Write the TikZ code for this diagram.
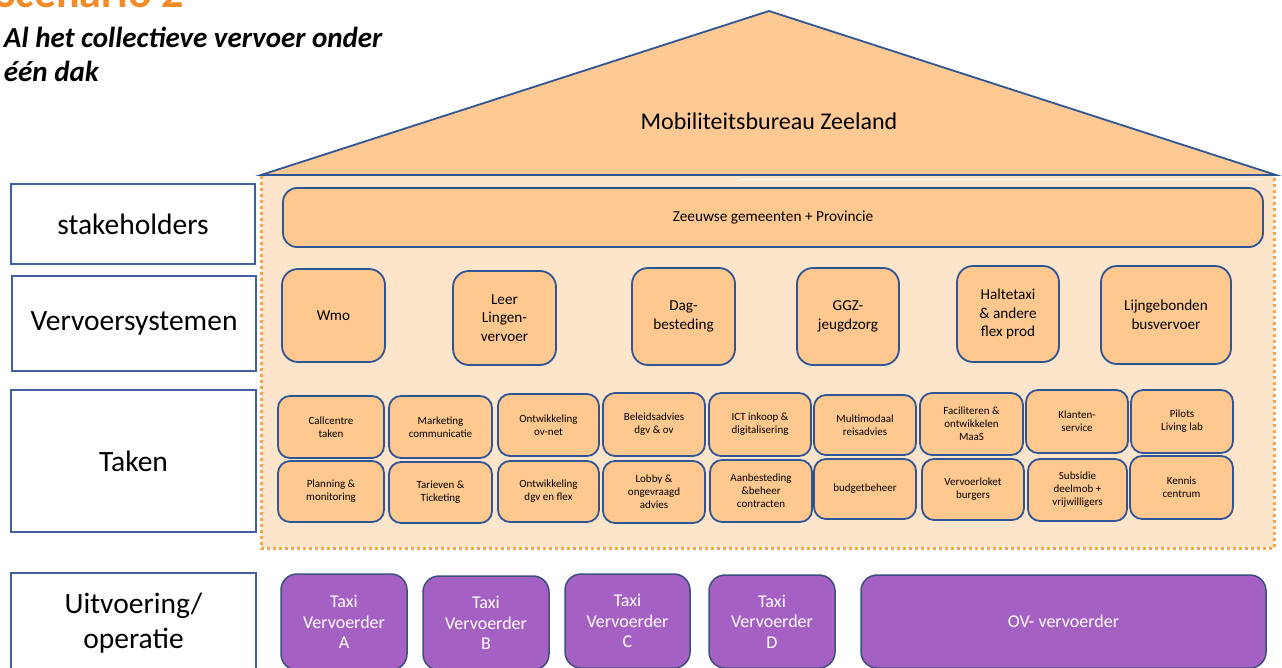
\documentclass[tikz,border=0pt]{standalone}
\usepackage{fontspec}
\setmainfont{Carlito}
\definecolor{roofor}{HTML}{FFC993}
\definecolor{boxor}{HTML}{FFC88F}
\definecolor{lightor}{HTML}{FDE5CC}
\definecolor{dotor}{HTML}{F7A54A}
\definecolor{bordblue}{HTML}{2F5597}
\definecolor{labblue}{HTML}{42609E}
\definecolor{purp}{HTML}{A560C3}
\definecolor{purpbord}{HTML}{3B4F7E}
\definecolor{titleor}{HTML}{F28C28}
\newcommand{\bx}[7]{\node[#1, minimum width={#5-#3}, minimum height={#6-#4}] (#2) at ({(#3+#5)/2},{(#4+#6)/2}) {#7};}
\tikzset{
  every node/.style={inner sep=0pt, outer sep=0pt, align=center},
  labbox/.style={draw=labblue, line width=1.8pt, fill=white, font=\fontsize{29.5}{35}\selectfont},
  stakebox/.style={draw=bordblue, line width=1.8pt, fill=boxor, rounded corners=14pt, font=\fontsize{15.3}{18}\selectfont},
  vsbox/.style={draw=bordblue, line width=1.8pt, fill=boxor, rounded corners=16pt, font=\fontsize{15.2}{18.5}\selectfont},
  tkbox/.style={draw=bordblue, line width=1.8pt, fill=boxor, rounded corners=12pt, font=\fontsize{11}{13}\selectfont},
  pbox/.style={draw=purpbord, line width=1.5pt, fill=purp, rounded corners=16pt, text=white, font=\fontsize{18}{20.5}\selectfont},
  dotline/.style={draw=dotor, line width=3pt, dash pattern=on 3pt off 3pt},
  roof/.style={draw=bordblue, line width=1.8pt, fill=roofor, line join=miter},
}
\begin{document}
\begin{tikzpicture}[x=1pt,y=-1pt]
\useasboundingbox (0,0) rectangle (1282,668);
% title
\node[anchor=base west, text=titleor, font=\fontsize{44}{44}\selectfont\bfseries] (scen) at (-5,8) {Scenario 2};
\node[anchor=north west, align=left, font=\fontsize{29}{34}\selectfont\bfseries\itshape] (sub) at (4,27) {Al het collectieve vervoer onder\\één dak};
% house body
\fill[lightor] (261,175) rectangle (1274,548);
\coordinate (dA) at (261,176);
\coordinate (dB) at (261,548);
\coordinate (dC) at (1274,548);
\coordinate (dD) at (1274,176);
\draw[dotline] (dA) -- (dB) -- (dC) -- (dD);
% roof
\coordinate (rL) at (261,175);
\coordinate (rT) at (769,11);
\coordinate (rR) at (1276,175);
\draw[roof] (rL) -- (rT) -- (rR) -- cycle;
\coordinate (wL) at (740,179.5);
\coordinate (wR) at (1263,179.5);
\draw[white, line width=1.5pt] (wL) -- (wR);
\node[font=\fontsize{24}{28}\selectfont] (mbz) at (769,121) {Mobiliteitsbureau Zeeland};
% left labels
\bx{labbox}{lstake}{11}{184}{255}{264}{stakeholders}
\bx{labbox}{lvs}{12}{276}{256}{371}{Vervoersystemen}
\bx{labbox}{ltaken}{11}{390}{256}{532}{Taken}
\bx{labbox}{luit}{11}{573}{256}{673}{Uitvoering/\\operatie}
% stakeholders
\bx{stakebox}{zeeuw}{283}{188}{1263}{247}{Zeeuwse gemeenten + Provincie}
% vervoersystemen
\bx{vsbox}{wmo}{282}{269}{385}{362}{Wmo}
\bx{vsbox}{leer}{453}{271}{556}{365}{Leer\\Lingen-\\vervoer}
\bx{vsbox}{dag}{632}{268}{735}{365}{Dag-\\besteding}
\bx{vsbox}{ggz}{797}{268}{899}{365}{GGZ-\\jeugdzorg}
\bx{vsbox}{halte}{957}{266}{1059}{362}{Haltetaxi\\\& andere\\flex prod}
\bx{vsbox}{lijn}{1101}{266}{1231}{364}{Lijngebonden\\busvervoer}
% taken row 1
\bx{tkbox}{t11}{278}{396}{384}{458}{Callcentre\\taken}
\bx{tkbox}{t12}{389}{396}{492}{458}{Marketing\\communicatie}
\bx{tkbox}{t13}{498}{394}{599}{456}{Ontwikkeling\\ov-net}
\bx{tkbox}{t14}{603}{393}{705}{456}{Beleidsadvies\\dgv \& ov}
\bx{tkbox}{t15}{709}{393}{811}{456}{ICT inkoop \&\\digitalisering}
\bx{tkbox}{t16}{814}{395}{916}{455}{Multimodaal\\reisadvies}
\bx{tkbox}{t17}{920}{393}{1023}{455}{Faciliteren \&\\ontwikkelen\\MaaS}
\bx{tkbox}{t18}{1026}{390}{1128}{453}{Klanten-\\service}
\bx{tkbox}{t19}{1131}{390}{1233}{453}{Pilots\\Living lab}
% taken row 2
\bx{tkbox}{t21}{278}{461}{384}{522}{Planning \&\\monitoring}
\bx{tkbox}{t22}{389}{462}{492}{523}{Tarieven \&\\Ticketing}
\bx{tkbox}{t23}{498}{461}{599}{522}{Ontwikkeling\\dgv en flex}
\bx{tkbox}{t24}{603}{461}{705}{523}{Lobby \&\\ongevraagd\\advies}
\bx{tkbox}{t25}{710}{460}{812}{522}{Aanbesteding\\\&beheer\\contracten}
\bx{tkbox}{t26}{814}{459}{916}{519}{budgetbeheer}
\bx{tkbox}{t27}{922}{459}{1024}{520}{Vervoerloket\\burgers}
\bx{tkbox}{t28}{1028}{459}{1127}{521}{Subsidie\\deelmob +\\vrijwilligers}
\bx{tkbox}{t29}{1130}{456}{1233}{519}{Kennis\\centrum}
% uitvoering
\bx{pbox}{pa}{281}{574}{407}{670}{Taxi\\Vervoerder\\A}
\bx{pbox}{pb}{423}{576}{549}{670}{Taxi\\Vervoerder\\B}
\bx{pbox}{pc}{565}{574}{690}{668}{Taxi\\Vervoerder\\C}
\bx{pbox}{pd}{709}{575}{835}{668}{Taxi\\Vervoerder\\D}
\bx{pbox}{pov}{861}{575}{1266}{668}{OV- vervoerder}
\end{tikzpicture}
\end{document}
